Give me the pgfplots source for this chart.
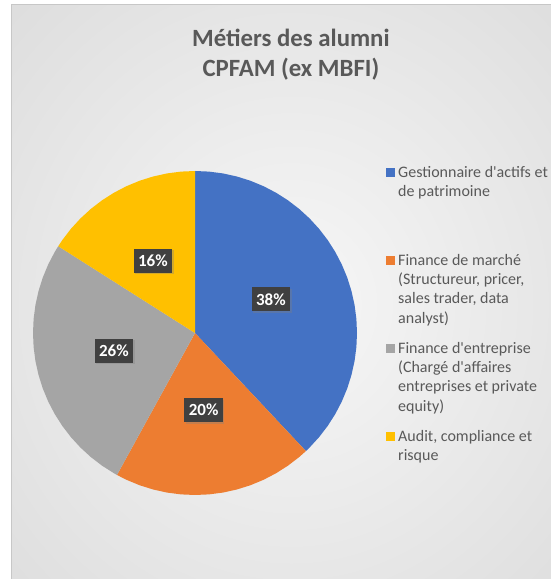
\documentclass[border=0pt]{standalone}
\usepackage{pgfplots}
\pgfplotsset{compat=1.18}
\usepackage{fontspec}
\setmainfont{Carlito}
\usetikzlibrary{shadows}
\definecolor{pblue}{HTML}{4472C4}
\definecolor{porange}{HTML}{ED7D31}
\definecolor{pgray}{HTML}{A5A5A5}
\definecolor{pyellow}{HTML}{FFC000}
\definecolor{legtext}{HTML}{595959}
\definecolor{lblbox}{HTML}{404040}
\definecolor{bgin}{HTML}{F7F7F7}
\definecolor{bgout}{HTML}{C4C4C4}
\pgfdeclareradialshading{bgshade}{\pgfpoint{0bp}{0bp}}{color(0bp)=(bgin); color(71bp)=(bgout)}
\newcommand{\lgd}[1]{\parbox[t]{170bp}{\raggedright\rule{0pt}{13bp}#1}}
\begin{document}
\begin{tikzpicture}
\useasboundingbox (0,0) rectangle (551bp,579bp);
\fill[white] (0,0) rectangle (551bp,579bp);
\shade[shading=bgshade] (11bp,-25bp) rectangle (571bp,574bp);
\draw[black!22, line width=1bp] (11bp,-25bp) -- (11bp,574bp) -- (571bp,574bp);
\begin{axis}[
  at={(195bp,246bp)}, anchor=center,
  scale only axis, width=324bp, height=324bp,
  xmin=-162, xmax=162, ymin=-162, ymax=162,
  hide axis, clip=false,
  title={Métiers des alumni\\CPFAM (ex MBFI)},
  title style={font=\bfseries\fontsize{24.8bp}{30bp}\selectfont, text=legtext,
    align=center, at={(0.796,1.42)}, anchor=north, inner sep=0pt},
  legend image code/.code={\fill[#1] (0bp,0bp) rectangle (9bp,9bp); \path (12.5bp,0bp);},
  legend style={font=\fontsize{16bp}{19.3bp}\selectfont, text=legtext, draw=none, fill=none,
    inner sep=0pt, row sep=0pt, column sep=0pt,
    nodes={inner sep=0pt, text height=13bp, text depth=75bp},
    cells={anchor=base west}, at={(1.088,1.0216)}, anchor=north west},
]
\addplot[data cs=polar, fill=pblue, draw=none] coordinates {
(0,0) (90,162) (85,162) (80,162) (75,162) (70,162) (65,162) (60,162) (55,162)
(50,162) (45,162) (40,162) (35,162) (30,162) (25,162) (20,162) (15,162) (10,162)
(5,162) (0,162) (-5,162) (-10,162) (-15,162) (-20,162) (-25,162) (-30,162)
(-35,162) (-40,162) (-45,162) (-46.8,162) (0,0)};
\addlegendentry{\lgd{Gestionnaire d\textquotesingle actifs et\\de patrimoine}}
\addplot[data cs=polar, fill=porange, draw=none] coordinates {
(0,0) (-46.8,162) (-50,162) (-55,162) (-60,162) (-65,162) (-70,162) (-75,162)
(-80,162) (-85,162) (-90,162) (-95,162) (-100,162) (-105,162) (-110,162)
(-115,162) (-118.8,162) (0,0)};
\addlegendentry{\lgd{Finance de marché\\(Structureur, pricer,\\sales trader, data\\analyst)}}
\addplot[data cs=polar, fill=pgray, draw=none] coordinates {
(0,0) (-118.8,162) (-120,162) (-125,162) (-130,162) (-135,162) (-140,162)
(-145,162) (-150,162) (-155,162) (-160,162) (-165,162) (-170,162) (-175,162)
(-180,162) (-185,162) (-190,162) (-195,162) (-200,162) (-205,162) (-210,162)
(-212.4,162) (0,0)};
\addlegendentry{\lgd{Finance d\textquotesingle entreprise\\(Chargé d\textquotesingle affaires\\entreprises et private\\equity)}}
\addplot[data cs=polar, fill=pyellow, draw=none] coordinates {
(0,0) (-212.4,162) (-215,162) (-220,162) (-225,162) (-230,162) (-235,162)
(-240,162) (-245,162) (-250,162) (-255,162) (-260,162) (-265,162) (-270,162)
(0,0)};
\addlegendentry{\lgd{Audit, compliance et\\risque}}
\addplot[forget plot, data cs=polar, draw=none, mark=none,
  nodes near coords, point meta=explicit symbolic,
  every node near coord/.style={anchor=center, fill=lblbox, text=white,
    font=\bfseries\fontsize{17bp}{20bp}\selectfont, inner xsep=4.5bp, inner ysep=0pt,
    minimum height=24bp,
    drop shadow={opacity=0.35, shadow xshift=1.5bp, shadow yshift=-1.5bp}}]
coordinates {
(24,83) [38\%]
(-83.6,77.5) [20\%]
(192.3,83) [26\%]
(120.3,83.4) [16\%]
};
\end{axis}
\end{tikzpicture}
\end{document}
